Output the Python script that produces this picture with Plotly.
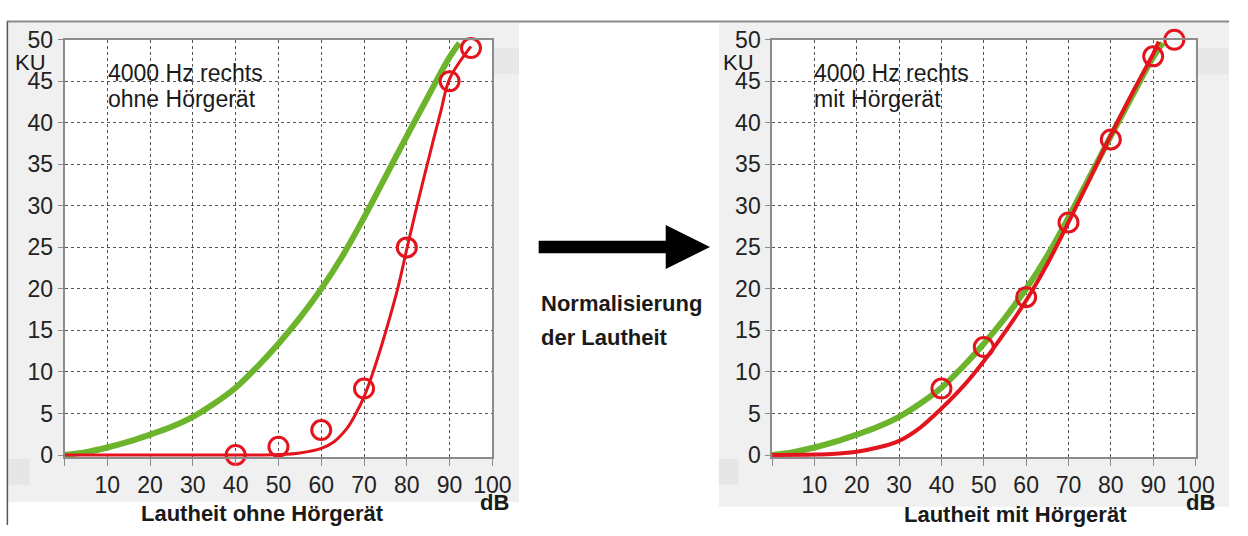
import plotly.graph_objects as go

# ---------------- data ----------------
# normal-hearing reference loudness curve (KU over dB)
norm_db = [0, 5, 10, 15, 20, 25, 30, 35, 40, 45, 50, 55, 60, 65, 70, 75, 80, 85, 90, 92.3]
norm_ku = [0, 0.35, 0.9, 1.6, 2.45, 3.4, 4.6, 6.2, 8.1, 10.6, 13.4, 16.5, 20.0, 24.0, 28.6, 33.5, 38.4, 43.2, 47.9, 49.6]

# fitted curve, without hearing aid
fit_ohne_db = [0, 45, 50, 55, 60, 63, 66, 68, 70, 72, 74, 76, 78, 80, 82, 84, 86, 88, 90, 95]
fit_ohne_ku = [0, 0, 0.05, 0.25, 0.8, 1.6, 3.2, 4.9, 7.0, 9.8, 13.0, 16.5, 20.3, 24.8, 29.2, 33.4, 37.5, 41.5, 45.3, 49.2]

# measured points, without hearing aid
mess_ohne_db = [40, 50, 60, 70, 80, 90, 95]
mess_ohne_ku = [0, 1, 3, 8, 25, 45, 49]

# fitted curve, with hearing aid
fit_mit_db = [0, 10, 15, 20, 25, 30, 35, 40, 45, 50, 55, 60, 65, 70, 75, 80, 85, 90, 91.3]
fit_mit_ku = [0, 0.05, 0.15, 0.4, 0.9, 1.7, 3.3, 5.6, 8.2, 11.3, 14.8, 18.6, 23.0, 28.0, 33.2, 38.5, 43.5, 48.3, 49.8]

# measured points, with hearing aid
mess_mit_db = [40, 50, 60, 70, 80, 90, 95]
mess_mit_ku = [8, 13, 19, 28, 38, 48, 50]

x_ticks = [0, 10, 20, 30, 40, 50, 60, 70, 80, 90, 100]
x_ticktext = ["", "10", "20", "30", "40", "50", "60", "70", "80", "90", "100"]
y_ticks = [0, 5, 10, 15, 20, 25, 30, 35, 40, 45, 50]
x_grid = [10, 20, 30, 40, 50, 60, 70, 80, 90]
y_grid = [5, 10, 15, 20, 25, 30, 35, 40, 45]

# ---------------- styling ----------------
W, H = 1248, 536
RED = "#e3141d"
GREEN = "#6cb42c"
FONT = "Liberation Sans, Arial, sans-serif"
PANEL_BG = "#f0f0f0"


def px(x):
    """pixel x -> paper x"""
    return x / W


def py(y):
    """pixel y (from top) -> paper y"""
    return 1 - y / H


fig = go.Figure()

# left panel traces
fig.add_trace(go.Scatter(x=norm_db, y=norm_ku, mode="lines", line=dict(color=GREEN, width=6, shape="spline"),
                         xaxis="x", yaxis="y", hoverinfo="skip"))
fig.add_trace(go.Scatter(x=fit_ohne_db, y=fit_ohne_ku, mode="lines", line=dict(color=RED, width=3, shape="spline"),
                         xaxis="x", yaxis="y", hoverinfo="skip"))
fig.add_trace(go.Scatter(x=mess_ohne_db, y=mess_ohne_ku, mode="markers", cliponaxis=False,
                         marker=dict(symbol="circle-open", size=19, color=RED, line=dict(width=3, color=RED)),
                         xaxis="x", yaxis="y"))

# right panel traces
fig.add_trace(go.Scatter(x=norm_db, y=norm_ku, mode="lines", line=dict(color=GREEN, width=6, shape="spline"),
                         xaxis="x2", yaxis="y2", hoverinfo="skip"))
fig.add_trace(go.Scatter(x=fit_mit_db, y=fit_mit_ku, mode="lines", line=dict(color=RED, width=4, shape="spline"),
                         xaxis="x2", yaxis="y2", hoverinfo="skip"))
fig.add_trace(go.Scatter(x=mess_mit_db, y=mess_mit_ku, mode="markers", cliponaxis=False,
                         marker=dict(symbol="circle-open", size=19, color=RED, line=dict(width=3, color=RED)),
                         xaxis="x2", yaxis="y2"))

y_dom = [py(464.9), py(28)]
left_dom = [px(65.5), px(500)]
right_dom = [px(784), px(1214)]


def xaxis_cfg(dom, anchor):
    return dict(domain=dom, anchor=anchor, range=[0, 100], tickmode="array", tickvals=x_ticks,
                ticktext=x_ticktext, ticks="outside", ticklen=7, tickcolor="#8c8c8c", tickwidth=1,
                showgrid=False, zeroline=False, showline=True, linecolor="#8c8c8c", linewidth=1.5,
                mirror=True, tickfont=dict(family=FONT, size=23, color="#222222"),
                minor=dict(tickmode="array", tickvals=x_grid, showgrid=True, gridcolor="#555555",
                           griddash="dot", gridwidth=1, ticks=""),
                fixedrange=True)


def yaxis_cfg(anchor):
    return dict(domain=y_dom, anchor=anchor, range=[-0.25, 50], tickmode="array", tickvals=y_ticks,
                ticktext=[str(v) for v in y_ticks], ticks="outside", ticklen=5, tickcolor="#8c8c8c",
                tickwidth=1, showgrid=False, zeroline=False, showline=True, linecolor="#8c8c8c",
                linewidth=1.5, mirror=True, tickfont=dict(family=FONT, size=23, color="#222222"),
                minor=dict(tickmode="array", tickvals=y_grid, showgrid=True, gridcolor="#555555",
                           griddash="dot", gridwidth=1, ticks=""),
                fixedrange=True)


shapes = []


def rect(x0, y0, x1, y1, color):
    shapes.append(dict(type="rect", xref="paper", yref="paper", x0=px(x0), x1=px(x1), y0=py(y1), y1=py(y0),
                       fillcolor=color, line=dict(width=0), layer="below"))


# panel backgrounds
rect(8, 10, 527, 512, PANEL_BG)
rect(730, 10, 1248, 517, PANEL_BG)
rect(500, 37, 527, 64, "#e7e7e7")
rect(1214, 37, 1248, 64, "#e7e7e7")
rect(8, 467, 30, 494, "#e6e6e6")
rect(730, 467, 750, 494, "#e6e6e6")
# white plotting areas
rect(65.5, 28, 500, 464.9, "white")
rect(784, 28, 1214, 464.9, "white")

# outer frame lines
shapes.append(dict(type="line", xref="paper", yref="paper", x0=px(7), x1=1, y0=py(9), y1=py(9),
                   line=dict(color="#8a8a8a", width=2)))
shapes.append(dict(type="line", xref="paper", yref="paper", x0=px(7.5), x1=px(7.5), y0=py(9), y1=0,
                   line=dict(color="#555555", width=1.5)))

# big arrow between the two diagrams
arrow_pts = [(547, 238.5), (676, 238.5), (676, 222), (721, 245), (676, 268), (676, 251.5), (547, 251.5)]
path = "M " + " L ".join(f"{px(a):.5f},{py(b):.5f}" for a, b in arrow_pts) + " Z"
shapes.append(dict(type="path", xref="paper", yref="paper", path=path, fillcolor="black",
                   line=dict(width=0)))

annotations = []


def label(text, x, y, size, bold=False, xanchor="center", color="#1a1a1a"):
    annotations.append(dict(text=f"<b>{text}</b>" if bold else text, xref="paper", yref="paper",
                            x=px(x), y=py(y), xanchor=xanchor, yanchor="middle", showarrow=False,
                            font=dict(family=FONT, size=size, color=color)))


label("4000 Hz rechts", 108, 63, 23, xanchor="left")
label("ohne Hörgerät", 108, 90, 23, xanchor="left")
label("4000 Hz rechts", 825, 63, 23, xanchor="left")
label("mit Hörgerät", 825, 90, 23, xanchor="left")
label("KU", 31, 51.5, 22)
label("KU", 750, 51.5, 22)
label("dB", 502, 512, 22, bold=True)
label("dB", 1219, 512, 22, bold=True)
label("Lautheit ohne Hörgerät", 267, 524, 22, bold=True)
label("Lautheit mit Hörgerät", 1031, 525, 22, bold=True)
label("Normalisierung", 547, 304, 22, bold=True, xanchor="left")
label("der Lautheit", 547, 340, 22, bold=True, xanchor="left")

fig.update_layout(
    width=W, height=H, autosize=False,
    margin=dict(l=0, r=0, t=0, b=0, pad=0),
    paper_bgcolor="white", plot_bgcolor="white",
    showlegend=False,
    xaxis=xaxis_cfg(left_dom, "y"),
    yaxis=yaxis_cfg("x"),
    xaxis2=xaxis_cfg(right_dom, "y2"),
    yaxis2=yaxis_cfg("x2"),
    shapes=shapes,
    annotations=annotations,
)

fig.write_html("out.html")
